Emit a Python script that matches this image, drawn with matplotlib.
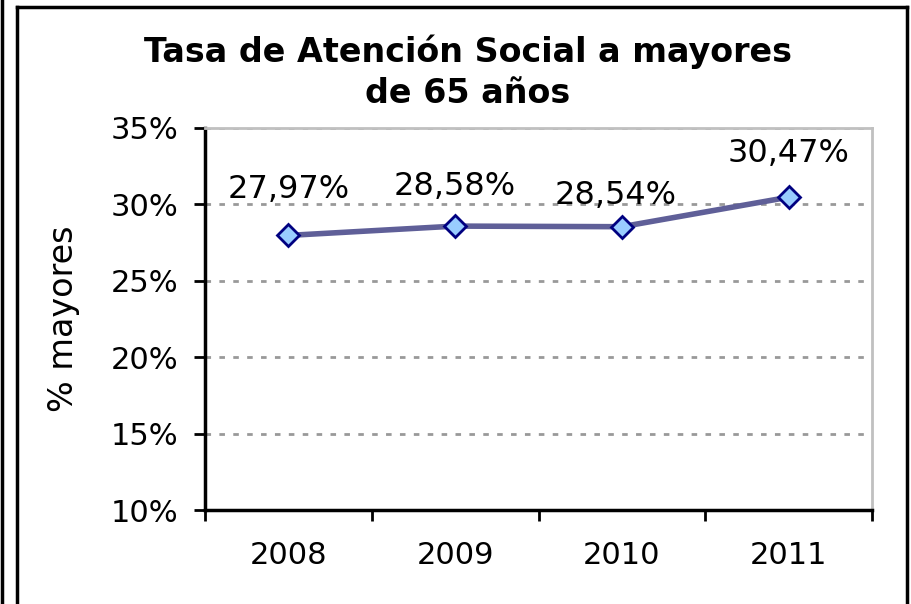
import matplotlib.pyplot as plt
from matplotlib.lines import Line2D
from matplotlib.ticker import FixedLocator, NullFormatter, FixedFormatter

years = ["2008", "2009", "2010", "2011"]
tasa = [27.97, 28.58, 28.54, 30.47]
labels = ["27,97%", "28,58%", "28,54%", "30,47%"]
yticks = [10, 15, 20, 25, 30, 35]

fig = plt.figure(figsize=(9.11, 6.04), dpi=100)
ax = fig.add_axes([205 / 911, 1 - 510 / 604, 667 / 911, 382 / 604])

x = list(range(len(years)))
ax.plot(x, tasa, color="#5f5f98", lw=4, zorder=3)
ax.plot(x, tasa, ls="none", marker="D", ms=11.5, mfc="#99ccff", mec="#000080", mew=2, zorder=4)

# data labels were placed by hand in the original chart (offsets in pixels)
label_shift = [(0, 46), (0, 40), (-6, 31), (0, 44)]
for xi, v, lab, (dx, dy) in zip(x, tasa, labels, label_shift):
    ax.annotate(lab, (xi, v), xytext=(dx, dy), textcoords="offset pixels",
                ha="center", va="center", fontsize=23)

ax.set_xlim(-0.5, 3.5)
ax.set_ylim(10, 35)
ax.yaxis.set_major_locator(FixedLocator(yticks))
ax.set_yticklabels([f"{t}%" for t in yticks], fontsize=22)
for t in yticks[1:]:
    ax.axhline(t, color="#999999", lw=2, ls=(0, (2, 3)), zorder=1)

ax.xaxis.set_major_locator(FixedLocator([-0.5, 0.5, 1.5, 2.5, 3.5]))
ax.xaxis.set_major_formatter(NullFormatter())
ax.xaxis.set_minor_locator(FixedLocator(x))
ax.xaxis.set_minor_formatter(FixedFormatter(years))
ax.tick_params(axis="x", which="minor", length=0, labelsize=22, pad=22)
ax.tick_params(axis="both", which="major", length=8, width=2, direction="out", color="black")
ax.tick_params(axis="y", pad=11)

for side in ["left", "bottom"]:
    ax.spines[side].set_linewidth(2.5)
    ax.spines[side].set_color("black")
for side in ["top", "right"]:
    ax.spines[side].set_linewidth(2)
    ax.spines[side].set_color("#c0c0c0")

ax.set_ylabel("% mayores", fontsize=24)
ax.yaxis.set_label_coords(-(205 - 80) / 667, 0.5)

fig.text(468 / 911, 1 - 72 / 604, "Tasa de Atención Social a mayores\nde 65 años",
         ha="center", va="center", fontsize=24, fontweight="bold", linespacing=1.3)

# outer frame
fig.add_artist(Line2D([17 / 911, 17 / 911], [0, 1 - 7 / 604], color="black", lw=2.5))
fig.add_artist(Line2D([17 / 911, 907 / 911], [1 - 7 / 604, 1 - 7 / 604], color="black", lw=2.5))
fig.add_artist(Line2D([907 / 911, 907 / 911], [0, 1 - 7 / 604], color="black", lw=2.5))
fig.add_artist(Line2D([2 / 911, 2 / 911], [0, 1], color="black", lw=2.5))

fig.savefig("out.png", dpi=100)
